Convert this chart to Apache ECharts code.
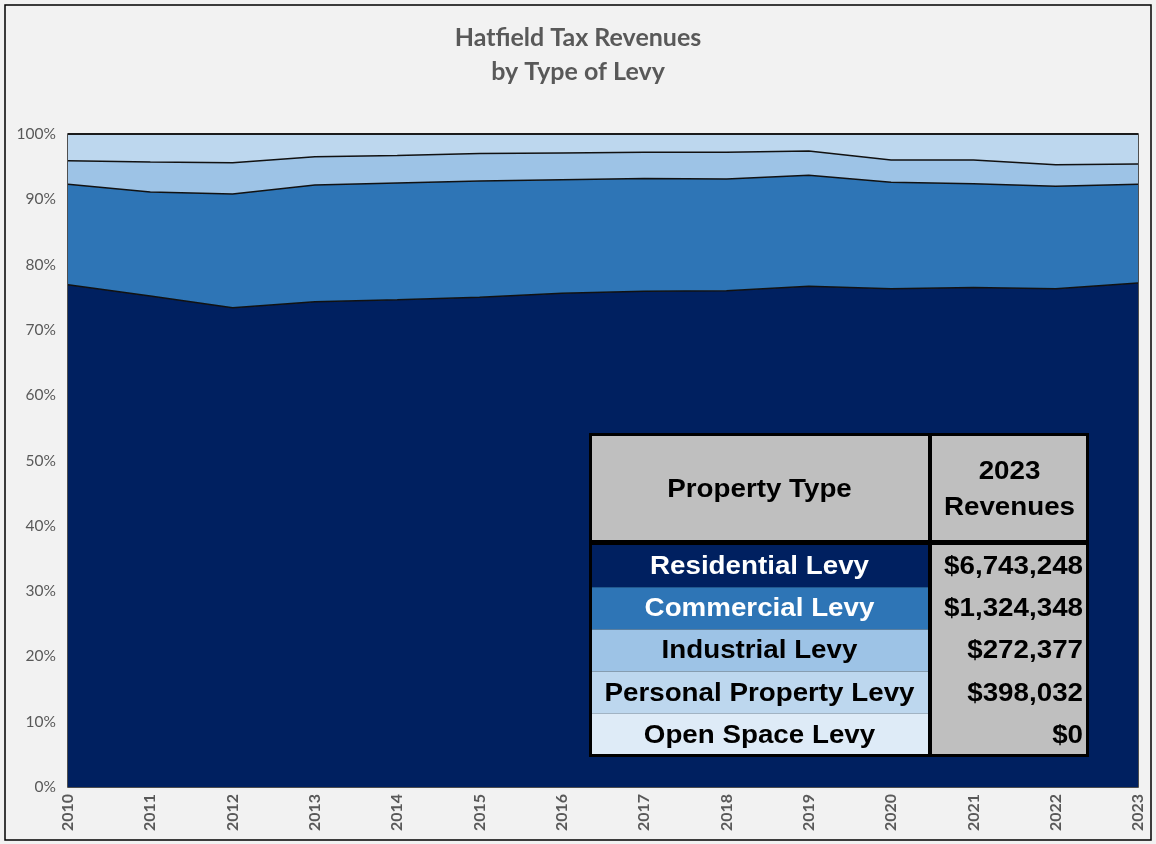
<!DOCTYPE html>
<html><head><meta charset="utf-8">
<script src="https://cdn.jsdelivr.net/npm/echarts@6/dist/echarts.min.js"></script>
<style>html,body{margin:0;padding:0;background:#fff}#c{width:1156px;height:844px}</style>
</head><body><div id="c"></div>
<script>
const years = ['2010','2011','2012','2013','2014','2015','2016','2017','2018','2019','2020','2021','2022','2023'];
const residential = [76.9, 75.2, 73.4, 74.3, 74.6, 75.0, 75.6, 75.9, 76.0, 76.7, 76.3, 76.5, 76.3, 77.2];
const commercial  = [15.4, 15.9, 17.4, 17.9, 17.9, 17.8, 17.4, 17.3, 17.1, 17.0, 16.3, 15.9, 15.7, 15.1];
const industrial  = [3.6, 4.6, 4.8, 4.3, 4.2, 4.2, 4.1, 4.0, 4.1, 3.7, 3.4, 3.6, 3.3, 3.1];
const personal    = [4.1, 4.3, 4.4, 3.5, 3.3, 3.0, 2.9, 2.8, 2.8, 2.6, 4.0, 4.0, 4.7, 4.6];
const openSpace   = [0, 0, 0, 0, 0, 0, 0, 0, 0, 0, 0, 0, 0, 0];
const yTicks = [0, 10, 20, 30, 40, 50, 60, 70, 80, 90, 100];
const levyNames = ['Residential Levy','Commercial Levy','Industrial Levy','Personal Property Levy','Open Space Levy'];
const revenues2023 = ['$6,743,248','$1,324,348','$272,377','$398,032','$0'];
const colors = ['#002060','#2E75B6','#9DC3E6','#BDD7EE','#DEEBF7'];
const textColors = ['#ffffff','#ffffff','#000000','#000000','#000000'];

const seriesData = [residential, commercial, industrial, personal, openSpace];
const chart = echarts.init(document.getElementById('c'));

// table graphics
const tx = 589, ty = 433, tw = 500, th = 324;
const colSplit = 930, headH = 108, rowH = 42.2;
const FONT = 'bold 25px "Liberation Sans", Arial';
const SX = 1.11;
const g = [];
g.push({type:'rect', shape:{x:tx, y:ty, width:tw, height:th}, style:{fill:'#000'}, z:10});
g.push({type:'rect', shape:{x:tx+3, y:ty+3, width:colSplit-tx-5, height:headH-4}, style:{fill:'#BFBFBF'}, z:11});
g.push({type:'rect', shape:{x:colSplit+2, y:ty+3, width:tx+tw-colSplit-5, height:headH-4}, style:{fill:'#BFBFBF'}, z:11});
g.push({type:'text', x:(tx+colSplit)/2, y:ty+3+(headH-4)/2+2, scaleX:SX, style:{text:'Property Type', fill:'#000', font:FONT, align:'center', verticalAlign:'middle'}, z:12});
g.push({type:'text', x:(colSplit+tx+tw)/2, y:ty+3+(headH-4)/2+2, scaleX:SX, style:{text:'2023\nRevenues', fill:'#000', font:FONT, align:'center', verticalAlign:'middle', lineHeight:36}, z:12});
const bodyTop = ty + headH + 4;
g.push({type:'rect', shape:{x:colSplit+2, y:bodyTop, width:tx+tw-colSplit-5, height:th-headH-7}, style:{fill:'#BFBFBF'}, z:11});
levyNames.forEach((n,i)=>{
  const y0 = bodyTop + i*rowH;
  g.push({type:'rect', shape:{x:tx+3, y:y0, width:colSplit-tx-5, height:(i===levyNames.length-1)? (ty+th-3-y0): rowH}, style:{fill:colors[i]}, z:11});
  g.push({type:'text', x:(tx+colSplit)/2, y:y0+rowH/2+1, scaleX:SX, style:{text:n, fill:textColors[i], font:FONT, align:'center', verticalAlign:'middle'}, z:12});
  g.push({type:'text', x:tx+tw-6, y:y0+rowH/2+1, scaleX:SX, style:{text:revenues2023[i], fill:'#000', font:FONT, align:'right', verticalAlign:'middle'}, z:12});
});
// outer frame
g.push({type:'rect', shape:{x:5, y:5, width:1146, height:835}, style:{fill:'none', stroke:'#000', lineWidth:1.5}, z:0, silent:true});

chart.setOption({
  backgroundColor:'#F2F2F2',
  animation:false,
  title:{text:'Hatfield Tax Revenues\nby Type of Levy', left:'center', top:16,
    textStyle:{color:'#595959', fontSize:25, fontWeight:'bold', fontFamily:'Lato, "Open Sans", sans-serif', lineHeight:34}},
  grid:{left:68, right:18, top:134, bottom:57, show:true, borderColor:'#1a1a1a', borderWidth:1.5, backgroundColor:'transparent'},
  xAxis:{type:'category', data:years, boundaryGap:false,
    axisLine:{show:false}, axisTick:{show:false}, splitLine:{show:false},
    axisLabel:{rotate:90, color:'#595959', fontSize:16, fontWeight:'bold', fontFamily:'Lato, sans-serif', margin:7, interval:0}},
  yAxis:{type:'value', min:0, max:100, interval:10,
    axisLine:{show:false}, axisTick:{show:false}, splitLine:{show:false},
    axisLabel:{color:'#595959', fontSize:15.5, fontFamily:'Lato, sans-serif', margin:12, formatter:v=>v+'%'}},
  series: seriesData.map((d,i)=>({
    name:levyNames[i], type:'line', stack:'all', data:d, symbol:'none',
    lineStyle:{color:'#111', width:1.5}, areaStyle:{color:colors[i], opacity:1}, z:2
  })),
  graphic:g
});
</script></body></html>
